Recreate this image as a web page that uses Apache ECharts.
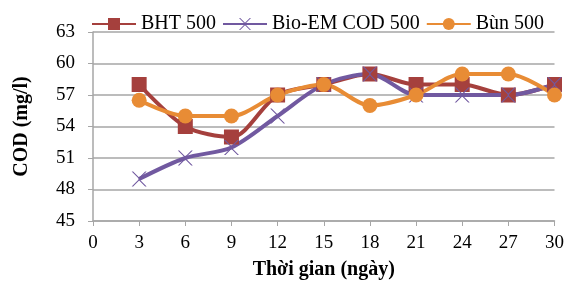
<!DOCTYPE html>
<html>
<head>
<meta charset="utf-8">
<script src="https://cdn.jsdelivr.net/npm/echarts@6/dist/echarts.min.js"></script>
<style>
  html, body { margin: 0; padding: 0; background: #fff; }
  #chart { width: 567px; height: 285px; }
</style>
</head>
<body>
<div id="chart"></div>
<script>
var days = [3, 6, 9, 12, 15, 18, 21, 24, 27, 30];
var bht = [58, 54, 53, 57, 58, 59, 58, 58, 57, 58];
var bioEm = [49, 51, 52, 55, 58, 59, 57, 57, 57, 58];
var bun = [56.5, 55, 55, 57, 58, 56, 57, 59, 59, 57];

function pairs(vals) {
  return days.map(function (d, i) { return [d, vals[i]]; });
}

var crossPath = 'path://M0,0 L2,0 L10,8 L18,0 L20,0 L11,9 L11,11 L20,20 L18,20 L10,12 L2,20 L0,20 L9,11 L9,9 Z';
var fontFam = '"Liberation Serif", "Times New Roman", serif';

var cod_char = echarts.init(document.getElementById('chart'));
var cod_option = {
  animation: false,
  textStyle: { fontFamily: fontFam },
  legend: {
    top: 9,
    left: 86,
    itemGap: 6,
    itemWidth: 44,
    itemHeight: 15,
    textStyle: { fontFamily: fontFam, fontSize: 20, color: '#000' },
    data: ['BHT 500', 'Bio-EM COD 500', 'Bùn 500']
  },
  grid: { left: 93, right: 6, top: 32, bottom: 63 },
  xAxis: {
    type: 'value',
    min: 0, max: 30, interval: 3,
    name: 'Thời gian (ngày)',
    nameLocation: 'middle',
    nameGap: 39,
    nameTextStyle: { fontFamily: fontFam, fontSize: 20, fontWeight: 'bold', color: '#000' },
    axisLine: { show: true, lineStyle: { color: '#a6a6a6', width: 1.5 } },
    axisTick: { show: true, length: 5, lineStyle: { color: '#a6a6a6' } },
    axisLabel: { fontFamily: fontFam, fontSize: 19, color: '#000', margin: 13 },
    splitLine: { show: false }
  },
  yAxis: {
    type: 'value',
    min: 45, max: 63, interval: 3,
    name: 'COD (mg/l)',
    nameLocation: 'middle',
    nameGap: 61,
    nameTextStyle: { fontFamily: fontFam, fontSize: 20, fontWeight: 'bold', color: '#000' },
    axisLine: { show: true, lineStyle: { color: '#a6a6a6', width: 1.5 } },
    axisTick: { show: true, length: 5, lineStyle: { color: '#a6a6a6' } },
    axisLabel: { fontFamily: fontFam, fontSize: 19, color: '#000', margin: 18 },
    splitLine: { show: true, lineStyle: { color: '#a6a6a6', width: 1.5 } }
  },
  series: [
    {
      name: 'BHT 500',
      type: 'line',
      smooth: 0.3,
      data: pairs(bht),
      symbol: 'rect',
      symbolSize: 15,
      itemStyle: { color: '#a5403d' },
      lineStyle: { color: '#a5403d', width: 4 }
    },
    {
      name: 'Bio-EM COD 500',
      type: 'line',
      smooth: 0.3,
      data: pairs(bioEm),
      symbol: crossPath,
      symbolSize: 15,
      itemStyle: { color: '#7159a0' },
      lineStyle: { color: '#7159a0', width: 4 }
    },
    {
      name: 'Bùn 500',
      type: 'line',
      smooth: 0.3,
      data: pairs(bun),
      symbol: 'circle',
      symbolSize: 15,
      itemStyle: { color: '#e88c35' },
      lineStyle: { color: '#e88c35', width: 4 }
    }
  ]
};
cod_char.setOption(cod_option);
</script>
</body>
</html>
